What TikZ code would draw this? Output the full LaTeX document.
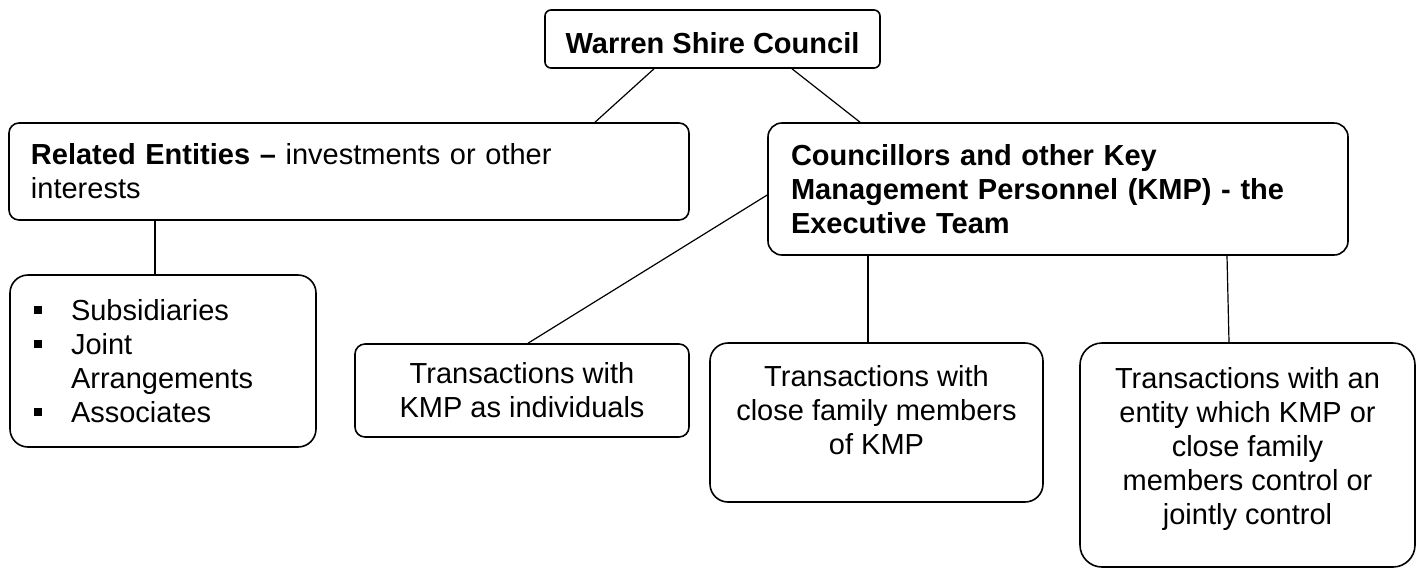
\documentclass[tikz,border=0pt]{standalone}
\usepackage{fontspec}
\setmainfont{Liberation Sans}
\newcommand\sqb{\makebox[18.3pt][l]{\rule[3.2pt]{4pt}{4pt}}}
\begin{document}
\begin{tikzpicture}[x=0.5pt,y=-0.5pt,
  box/.style={draw, line width=0.8pt, inner sep=0pt, font=\fontsize{14.5}{17}\selectfont},
  boldbox/.style={box, font=\fontsize{14.5}{17}\selectfont\bfseries},
  link/.style={line width=0.6pt}]
\useasboundingbox (0,0) rectangle (1423,569);
\node[boldbox, rounded corners=3pt, minimum width=167.5pt, minimum height=29pt, text height=14.5pt, text depth=0pt] (top) at (712.5,39) {Warren Shire Council};
\node[box, rounded corners=5pt, minimum height=48.5pt, text width=318pt, inner xsep=11pt, align=left] (rel) at (349,171.5) {\textbf{Related Entities –} investments or other\\interests};
\node[boldbox, rounded corners=7pt, minimum height=66pt, text width=267pt, inner xsep=11.5pt, align=left] (kmp) at (1058,189) {Councillors and other Key\\Management Personnel (KMP) - the\\Executive Team};
\node[box, rounded corners=9pt, minimum height=86pt, text width=128.6pt, inner xsep=12.2pt, align=left] (sub) at (163,361) {\sqb Subsidiaries\\\sqb Joint\\\hspace*{18.3pt}Arrangements\\\sqb Associates};
\node[box, rounded corners=5pt, minimum width=167pt, minimum height=46.5pt, align=center] (ind) at (522,390.5) {Transactions with\\KMP as individuals};
\node[box, rounded corners=9pt, minimum width=166.5pt, minimum height=79.5pt, align=center] (fam) at (876.5,422.5) {Transactions with\\close family members\\of KMP\\[-4pt]\mbox{}};
\node[box, rounded corners=11pt, minimum width=167.5pt, minimum height=112pt, align=center] (ent) at (1247.5,455) {Transactions with an\\entity which KMP or\\close family\\members control or\\jointly control\\[-8pt]\mbox{}};
\draw[link] (top.south -| 654,0) -- (rel.north -| 595,0);
\draw[link] (top.south -| 792,0) -- (kmp.north -| 860,0);
\draw[link] (rel.south -| 155,0) -- (sub.north -| 155,0);
\draw[link] (kmp.west |- 0,195) -- (ind.north -| 528,0);
\draw[link] (kmp.south -| 868,0) -- (fam.north -| 868,0);
\draw[link] (kmp.south -| 1227,0) -- (ent.north -| 1229,0);
\end{tikzpicture}
\end{document}
